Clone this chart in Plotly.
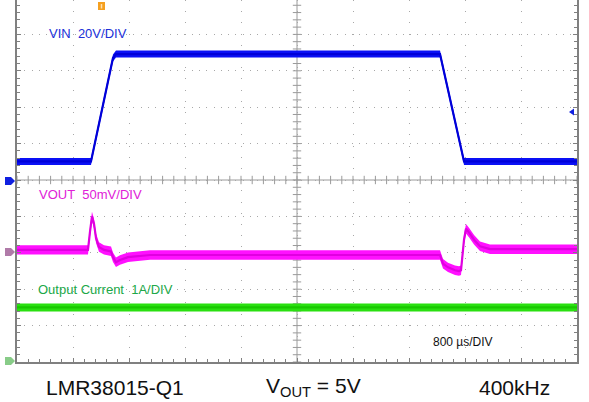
import numpy as np
import plotly.graph_objects as go

# ---------------- data (read from the scope shot) ----------------
# time in microseconds, 800 us/div, 10 divisions centred on 0
t_vin = [-4000, -2943, -2629, -2586, 2043, 2386, 4000]
vin_v = [10.2, 10.2, 67.0, 69.2, 69.2, 10.2, 10.2]

t_vout = [-4000, -2986, -2957, -2929, -2900, -2871, -2829, -2757, -2657, -2629,
          -2586, -2529, -2414, -2100, 2043, 2086, 2157, 2257, 2314, 2343,
          2386, 2414, 2457, 2529, 2614, 2757, 4000]
vout_v = [5.004, 5.004, 5.029, 5.050, 5.040, 5.020, 5.008, 5.004, 5.002, 4.994,
          4.987, 4.990, 4.994, 4.997, 4.997, 4.985, 4.980, 4.976, 4.975, 4.976,
          5.018, 5.033, 5.028, 5.018, 5.009, 5.005, 5.005]

t_iout = [-4000, 4000]
iout_a = [1.5, 1.5]

# channel settings: (volts/div, reference value, screen position in div)
VIN_SCALE, VIN_REF, VIN_POS = 20.0, 0.0, 5.0
VOUT_SCALE, VOUT_REF, VOUT_POS = 0.05, 5.0, 3.0
IOUT_SCALE, IOUT_REF, IOUT_POS = 1.0, 0.0, 0.0

labels = ["VIN\u00a0\u00a020V/DIV", "VOUT\u00a0\u00a050mV/DIV",
          "Output Current\u00a0\u00a01A/DIV", "800 \u00b5s/DIV"]
footer = ["LMR38015-Q1", "V<sub>OUT</sub> = 5V", "400kHz"]

# ---------------- layout geometry ----------------
W, H = 589, 402
L, R, T, B = 17, 12, 0, 40
PW, PH = W - L - R, H - T - B           # 560 x 362
YTOP = PH / 36.4                          # visible divisions vertically

def px(x):
    return (x - L) / PW

def py(y):
    return (PH - y) / PH

def to_div(vals, scale, ref, pos):
    return pos + (np.asarray(vals, dtype=float) - ref) / scale

FONT = "Liberation Sans, Arial, sans-serif"
fig = go.Figure()

def band(t, yd, half, fill, core):
    yd = np.asarray(yd)
    fig.add_trace(go.Scatter(x=t, y=yd - half, mode="lines", line=dict(width=0),
                             showlegend=False, hoverinfo="skip"))
    fig.add_trace(go.Scatter(x=t, y=yd + half, mode="lines", line=dict(width=0),
                             fill="tonexty", fillcolor=fill,
                             showlegend=False, hoverinfo="skip"))
    fig.add_trace(go.Scatter(x=t, y=yd, mode="lines", line=dict(color=core, width=2.2),
                             showlegend=False, hoverinfo="skip"))

# graticule centre-cross ticks
minor_t = np.arange(-4000, 4000.1, 160)
minor_y = np.arange(0, YTOP, 0.2)
fig.add_trace(go.Scatter(x=minor_t, y=[5] * len(minor_t), mode="markers",
                         marker=dict(symbol="line-ns", size=6,
                                     line=dict(width=1, color="#9a9a9a")),
                         showlegend=False, hoverinfo="skip"))
fig.add_trace(go.Scatter(x=[0] * len(minor_y), y=minor_y, mode="markers",
                         marker=dict(symbol="line-ew", size=6,
                                     line=dict(width=1, color="#9a9a9a")),
                         showlegend=False, hoverinfo="skip"))

band(t_vin, to_div(vin_v, VIN_SCALE, VIN_REF, VIN_POS), 0.096, "#0a10f5", "#0000d8")
band(t_vout, to_div(vout_v, VOUT_SCALE, VOUT_REF, VOUT_POS), 0.13, "#ff10ff", "#e000e0")
band(t_iout, to_div(iout_a, IOUT_SCALE, IOUT_REF, IOUT_POS), 0.11, "#2ae010", "#18c800")

shapes = [
    # centre cross
    dict(type="line", xref="paper", yref="paper", x0=0, x1=1, y0=py(180), y1=py(180),
         line=dict(color="#9a9a9a", width=1), layer="below"),
    dict(type="line", xref="paper", yref="paper", x0=px(297), x1=px(297), y0=0, y1=1,
         line=dict(color="#9a9a9a", width=1), layer="below"),
    # channel markers
    dict(type="path", xref="paper", yref="paper",
         path=f"M {px(5)} {py(177)} L {px(11)} {py(177)} L {px(15)} {py(181)} L {px(11)} {py(185)} L {px(5)} {py(185)} Z",
         fillcolor="#1020e0", line=dict(width=0)),
    dict(type="path", xref="paper", yref="paper",
         path=f"M {px(5)} {py(248)} L {px(11)} {py(248)} L {px(15)} {py(252)} L {px(11)} {py(256)} L {px(5)} {py(256)} Z",
         fillcolor="#b07aa8", line=dict(width=0)),
    dict(type="path", xref="paper", yref="paper",
         path=f"M {px(5)} {py(357)} L {px(11)} {py(357)} L {px(15)} {py(361)} L {px(11)} {py(365)} L {px(5)} {py(365)} Z",
         fillcolor="#88cc88", line=dict(width=0)),
    # trigger position marker
    dict(type="rect", xref="paper", yref="paper", x0=px(98), x1=px(105), y0=py(10), y1=py(2),
         fillcolor="#f5a020", line=dict(width=0)),
    dict(type="line", xref="paper", yref="paper", x0=px(101.5), x1=px(101.5), y0=py(8.5), y1=py(4),
         line=dict(color="#ffe0b0", width=1.5)),
    # trigger level arrow
    dict(type="path", xref="paper", yref="paper",
         path=f"M {px(569)} {py(112)} L {px(574)} {py(108.5)} L {px(574)} {py(115.5)} Z",
         fillcolor="#1020e0", line=dict(width=0)),
]

ann = [
    dict(text=labels[0], x=px(47), y=py(33), color="#2030d8", size=13),
    dict(text=labels[1], x=px(37), y=py(194), color="#e020d8", size=13),
    dict(text=labels[2], x=px(36), y=py(289), color="#20a848", size=13),
    dict(text=labels[3], x=px(431), y=py(342), color="#111111", size=12),
    dict(text=footer[0], x=px(44), y=py(387), color="#111111", size=21),
    dict(text=footer[1], x=px(264), y=py(387), color="#111111", size=21),
    dict(text=footer[2], x=px(477), y=py(387), color="#111111", size=21),
]
annotations = [dict(text=a["text"], x=a["x"], y=a["y"], xref="paper", yref="paper",
                    xanchor="left", yanchor="middle", showarrow=False,
                    font=dict(family=FONT, size=a["size"], color=a["color"]))
               for a in ann]

fig.update_layout(
    width=W, height=H, margin=dict(l=L, r=R, t=T, b=B),
    paper_bgcolor="white", plot_bgcolor="white",
    showlegend=False, shapes=shapes, annotations=annotations,
    xaxis=dict(range=[-4000, 4000], showticklabels=False, zeroline=False,
               showgrid=True, dtick=800, tick0=-4000, gridcolor="#a8a8a8",
               griddash="1px,10.2px", gridwidth=1,
               showline=True, linecolor="#808080", linewidth=1.5, mirror=False,
               ticks="inside", ticklen=4, tickcolor="#808080",
               minor=dict(dtick=160, ticks="inside", ticklen=3, tickcolor="#808080", showgrid=False)),
    yaxis=dict(range=[0, YTOP], showticklabels=False, zeroline=False,
               showgrid=True, dtick=1, tick0=0, gridcolor="#a8a8a8",
               griddash="1px,6.28px", gridwidth=1,
               showline=True, linecolor="#808080", linewidth=1.5, mirror="ticks",
               ticks="inside", ticklen=4, tickcolor="#808080",
               minor=dict(dtick=0.2, ticks="inside", ticklen=3, tickcolor="#808080", showgrid=False)),
)

fig.write_html("out.html", config={"displayModeBar": False},
               post_script="document.body.style.margin='0';document.body.style.overflow='hidden';")
